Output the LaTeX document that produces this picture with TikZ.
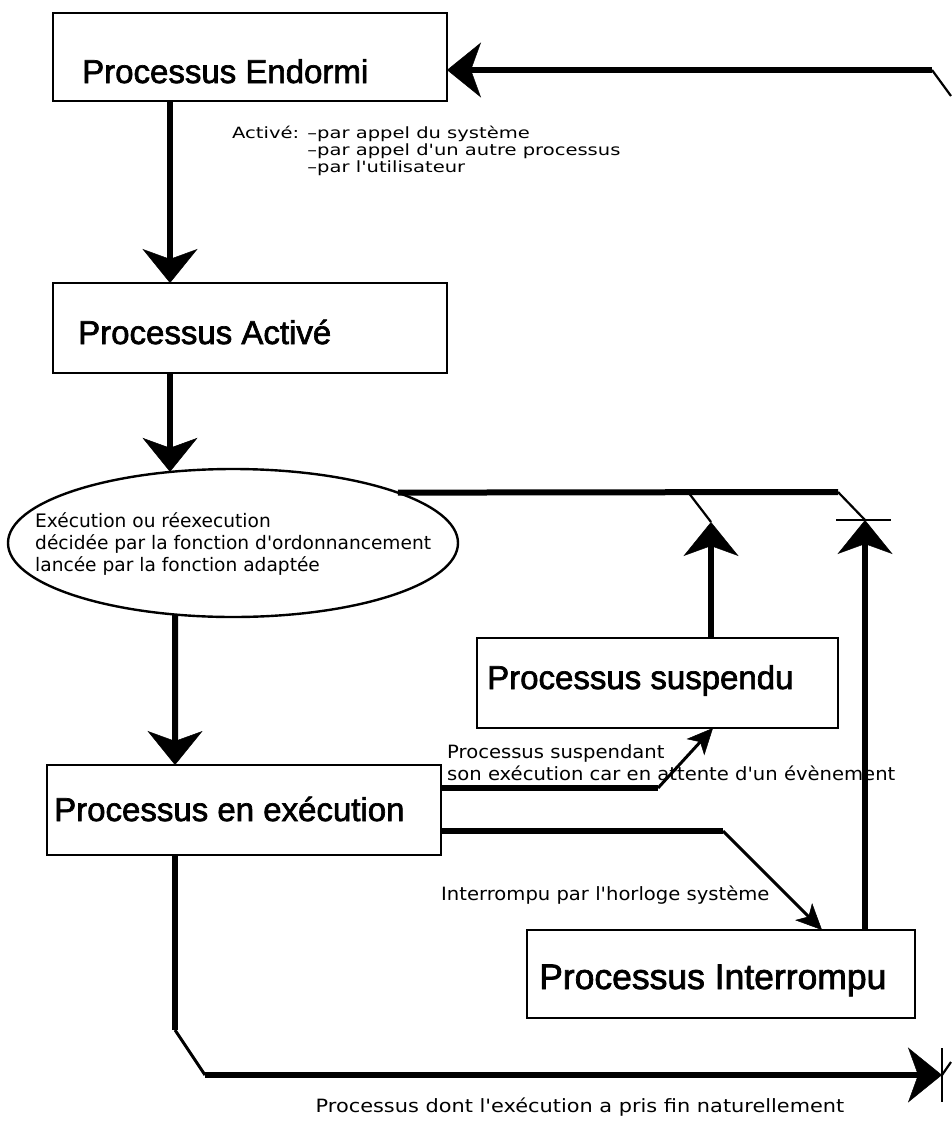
\documentclass[tikz,border=0pt]{standalone}
\usepackage{fontspec}
\setmainfont{Liberation Sans}
\newfontfamily\titlefont[FakeBold=2]{Liberation Sans}
\newfontfamily\smallfont[FakeStretch=1.07]{DejaVu Sans}
\newfontfamily\smallfontN{DejaVu Sans}
\newfontfamily\smallfontW[FakeStretch=1.14]{DejaVu Sans}
\newfontfamily\smallfontX[FakeStretch=1.26]{DejaVu Sans}
\usetikzlibrary{arrows.meta,shapes.geometric}
\begin{document}
\begin{tikzpicture}[x=1pt,y=-1pt,
 boxst/.style={draw,line width=1.8pt,inner sep=0pt,outer sep=0pt,anchor=north west},
 titlest/.style={font=\titlefont\fontsize{33}{38}\selectfont,inner sep=0pt,anchor=base west},
 bigtitle/.style={font=\titlefont\fontsize{35.5}{40}\selectfont,inner sep=0pt,anchor=base west},
 smallst/.style={font=\smallfont\fontsize{18.3}{22}\selectfont,inner sep=0pt,anchor=base west},
 smallnarrow/.style={smallst,font=\smallfontN\fontsize{18.6}{22}\selectfont},
 smallwide/.style={smallst,font=\smallfontW\fontsize{18.3}{22}\selectfont},
 smallflat/.style={smallst,font=\smallfontX\fontsize{15.5}{16}\selectfont},
 thickline/.style={line width=6pt},
 medline/.style={line width=3pt},
 thinline/.style={line width=2.2pt},
 bigarrow/.style={-{Stealth[length=34pt,width=55pt,inset=10pt,line width=0.5pt]}},
 smallarrow/.style={-{Stealth[length=26pt,width=24pt,inset=7pt,line width=0.5pt]}},
]
\useasboundingbox[fill=white] (0,0) rectangle (951,1138);

% boxes
\node[boxst,minimum width=394pt,minimum height=88pt] (endormi) at (53,13) {};
\node[boxst,minimum width=394pt,minimum height=90pt] (active) at (53,283) {};
\node[draw,ellipse,line width=2.4pt,minimum width=450pt,minimum height=148pt,inner sep=0pt,outer sep=0pt] (ell) at (233,543) {};
\node[boxst,minimum width=361pt,minimum height=90pt] (susp) at (477,638) {};
\node[boxst,minimum width=394pt,minimum height=90pt] (exec) at (47,765) {};
\node[boxst,minimum width=388pt,minimum height=88pt] (inter) at (527,930) {};

% titles
\node[titlest] (tEnd) at (82,83) {Processus Endormi};
\node[titlest] (tAct) at (78,344) {Processus Activé};
\node[titlest] (tSus) at (487,689) {Processus suspendu};
\node[titlest] (tExe) at (54,821) {Processus en exécution};
\node[bigtitle] (tInt) at (539,989) {Processus Interrompu};

% small labels
\node[smallflat] (la1) at (232,138) {Activé: –par appel du système};
\node[smallflat] (la2) at (232,155) {\phantom{Activé: }–par appel d'un autre processus};
\node[smallflat] (la3) at (232,172) {\phantom{Activé: }–par l'utilisateur};
\node[smallnarrow] (le1) at (35,527) {Exécution ou réexecution};
\node[smallnarrow] (le2) at (35,549) {décidée par la fonction d'ordonnancement};
\node[smallnarrow] (le3) at (35,571) {lancée par la fonction adaptée};
\node[smallst] (ls1) at (447,758) {Processus suspendant};
\node[smallst] (ls2) at (447,780) {son exécution car en attente d'un évènement};
\node[smallst] (li1) at (441,900) {Interrompu par l'horloge système};
\node[smallwide,anchor=base] (lf1) at (580,1112) {Processus dont l'exécution a pris fin naturellement};

% coordinates
\coordinate (x170) at (170,0);
\coordinate (x175) at (175,0);
\coordinate (tr0) at (951,96);
\coordinate (tr1) at (932,70);
\coordinate (j1) at (688,492);
\coordinate (j2) at (838,492);
\coordinate (k1) at (711,522);
\coordinate (k2) at (865,520);
\coordinate (cb1) at (836,520);
\coordinate (cb2) at (891,520);
\coordinate (s1) at (658,788);
\coordinate (s2) at (713,0);
\coordinate (i1) at (723,831);
\coordinate (i2) at (822,0);
\coordinate (b1) at (175,1030);
\coordinate (b2) at (205,1075);
\coordinate (b3) at (942,1075);
\coordinate (b4) at (942,1048);
\coordinate (b5) at (942,1102);
\coordinate (b6) at (951,1062);

% connectors
\draw[thickline,bigarrow] (x170 |- endormi.south) -- (x170 |- active.north);
\draw[thickline,bigarrow] (x170 |- active.south) -- (x170 |- ell.131.6);
\draw[thickline,bigarrow] (ell.231) -- (x175 |- exec.north);

\draw[thinline] (tr0) -- (tr1);
\draw[thickline,bigarrow] (tr1) -- (tr1 -| endormi.east);

\draw[thickline] (ell.17.4) -- (j2);
\draw[thinline] (j1) -- (k1);
\draw[thinline] (j2) -- (k2);
\draw[thinline] (cb1) -- (cb2);
\draw[thickline,bigarrow] (k1 |- susp.north) -- (k1);
\draw[thickline,bigarrow] (k2 |- inter.north) -- (k2);

\draw[thickline] (exec.east |- s1) -- (s1);
\draw[medline,smallarrow] (s1) -- (s2 |- susp.south);
\draw[thickline] (exec.east |- i1) -- (i1);
\draw[medline,smallarrow] (i1) -- (i2 |- inter.north);

\draw[thickline] (x175 |- exec.south) -- (b1);
\draw[medline] (b1) -- (b2);
\draw[thickline,bigarrow] (b2) -- (b3);
\draw[thinline] (b4) -- (b5);
\draw[thinline] (b3) -- (b6);
\end{tikzpicture}
\end{document}
